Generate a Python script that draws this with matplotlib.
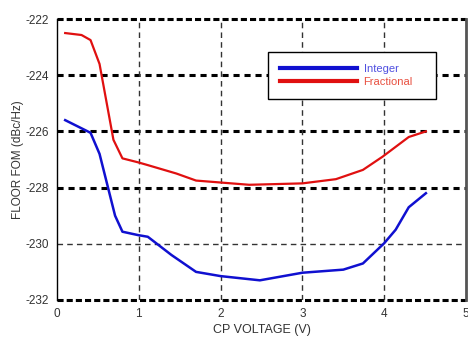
import matplotlib.pyplot as plt

# data
v_int = [0.1, 0.41, 0.52, 0.71, 0.8, 0.99, 1.11, 1.4, 1.7, 2.0, 2.48, 3.0, 3.5, 3.74, 4.0, 4.14, 4.3, 4.51]
fom_int = [-225.6, -226.05, -226.8, -229.0, -229.57, -229.69, -229.75, -230.4, -231.0, -231.15,
           -231.3, -231.03, -230.92, -230.7, -229.98, -229.5, -228.7, -228.2]

v_frac = [0.1, 0.3, 0.41, 0.52, 0.69, 0.8, 0.99, 1.11, 1.46, 1.7, 2.35, 3.0, 3.41, 3.74, 3.98, 4.3, 4.51]
fom_frac = [-222.5, -222.57, -222.75, -223.6, -226.3, -226.96, -227.1, -227.2, -227.5, -227.75,
            -227.9, -227.85, -227.7, -227.37, -226.9, -226.2, -226.0]

x_ticks = [0, 1, 2, 3, 4, 5]
y_ticks = [-222, -224, -226, -228, -230, -232]

txt = '#333333'
plt.rcParams['font.family'] = ['Liberation Sans', 'DejaVu Sans']
plt.rcParams['axes.unicode_minus'] = False

fig = plt.figure(figsize=(4.68, 3.43), dpi=100)
ax = fig.add_axes([0.1218, 0.1254, 0.8739, 0.8192])

# grid lines
for y in [-224, -226, -228]:
    ax.axhline(y, color='black', lw=2.2, ls=(0, (2, 1.6)), zorder=1)
ax.axhline(-230, color='#333333', lw=1.0, ls=(0, (4, 3)), zorder=1)
for y in [-222, -232]:
    ax.axhline(y, color='black', lw=2.2, ls=(0, (2, 1.0)), zorder=1, clip_on=False)
for x in [1, 2, 3, 4]:
    ax.axvline(x, color='#333333', lw=1.0, ls=(0, (4, 3)), zorder=1)

ax.plot(v_int, fom_int, color='#1010d0', lw=1.8, label='Integer', zorder=3)
ax.plot(v_frac, fom_frac, color='#e01010', lw=1.6, label='Fractional', zorder=3)

ax.set_xlim(0, 5)
ax.set_ylim(-232, -222)
ax.set_xticks(x_ticks)
ax.set_yticks(y_ticks)
ax.tick_params(length=0, labelsize=8.5, colors=txt, pad=6)

ax.spines['top'].set_visible(False)
ax.spines['bottom'].set_visible(False)
ax.spines['left'].set_color('black')
ax.spines['left'].set_linewidth(1.0)
ax.spines['right'].set_color('#555555')
ax.spines['right'].set_linewidth(2.0)

ax.set_xlabel('CP VOLTAGE (V)', fontsize=9, color=txt, labelpad=3)
ax.set_ylabel('FLOOR FOM (dBc/Hz)', fontsize=8.5, color=txt, labelpad=1)

leg = ax.legend(loc='center', bbox_to_anchor=(0.516, 0.708, 0.411, 0.182), mode='expand',
                fontsize=8, handlelength=6.9, handletextpad=0.6, labelspacing=0.3,
                borderpad=1.1, borderaxespad=0, fancybox=False, framealpha=1, edgecolor='black')
leg.get_frame().set_linewidth(1.0)
leg.set_zorder(5)
for line in leg.get_lines():
    line.set_linewidth(3.0)
leg.get_texts()[0].set_color('#5050e0')
leg.get_texts()[1].set_color('#e85040')

fig.savefig('out.png', dpi=100)
